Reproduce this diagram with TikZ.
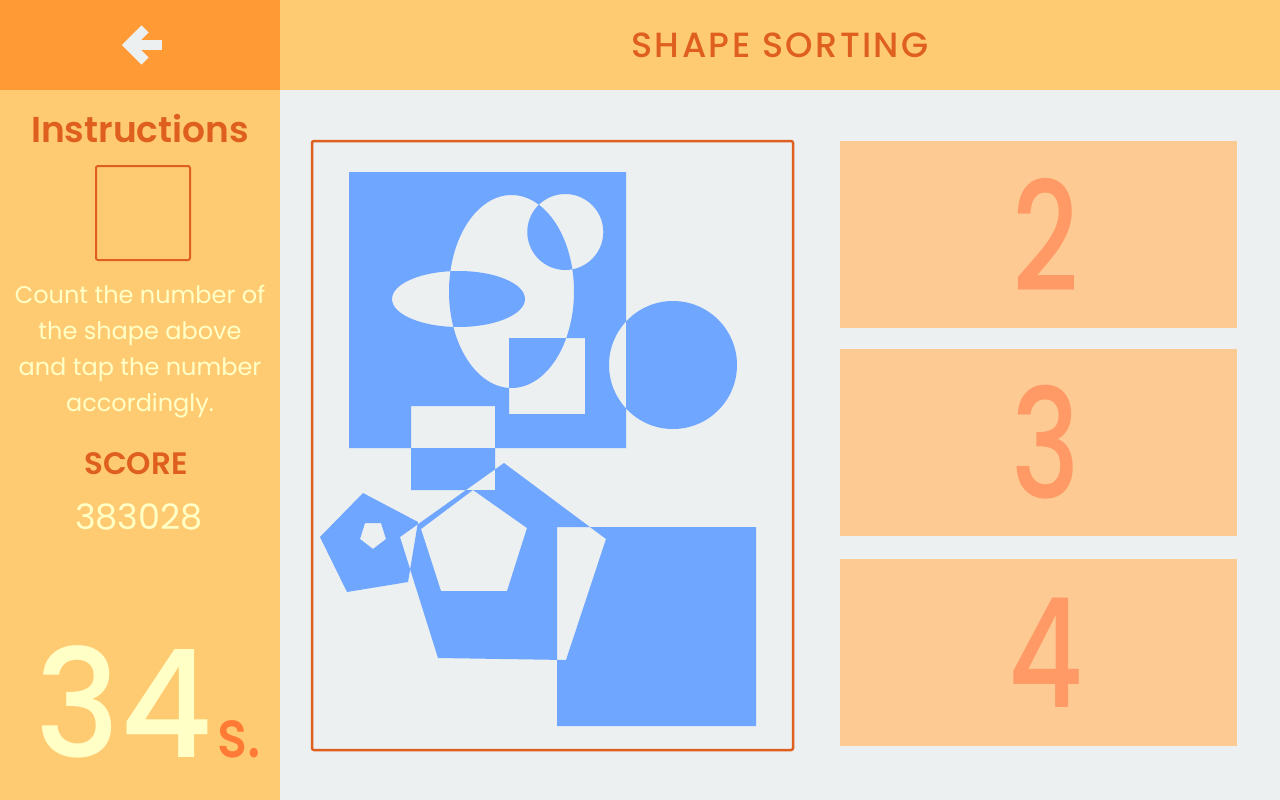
\documentclass[tikz,border=0pt]{standalone}
\usepackage{fontspec}
\setmainfont{Poppins}
\newfontfamily\medfont{Poppins Medium}
\newfontfamily\semifont{Poppins SemiBold}
\usetikzlibrary{positioning}

\definecolor{backorange}{HTML}{FF9A35}
\definecolor{barcol}{HTML}{FFCB72}
\definecolor{boardbg}{HTML}{ECF0F1}
\definecolor{shapeblue}{HTML}{6FA6FF}
\definecolor{darkorange}{HTML}{DF5F1F}
\definecolor{btncol}{HTML}{FDCA93}
\definecolor{btntext}{HTML}{FF9A66}
\definecolor{paletext}{HTML}{FFFFC6}
\definecolor{secorange}{HTML}{FF7A35}

\tikzset{
	answer/.style={fill=btncol, minimum width=397pt, minimum height=187pt, inner sep=0pt},
	answernum/.style={text=btntext, inner sep=0pt, font=\fontsize{152}{152}\selectfont\medfont},
	sidetext/.style={text=paletext, inner sep=0pt, align=center},
}

\begin{document}
\begin{tikzpicture}[x=1pt, y=-1pt]
			\useasboundingbox (0,0) rectangle (1280,800);
			
			\begin{scope}
			\fill[boardbg] (280,90) rectangle (1280,800); % area di gioco
			\fill[barcol] (280,0) rectangle (1280,90); % barra titolo
			\fill[barcol] (0,90) rectangle (280,800); % barra laterale
			\fill[backorange] (0,0) rectangle (280,90); % tasto indietro
			
			\draw[boardbg, line width=10pt, miter limit=10] (145,29) -- (129,45) -- (145,61);
			\draw[boardbg, line width=10pt] (128,45) -- (162,45);
			
			\node[text=darkorange, inner sep=0pt, font=\fontsize{35}{35}\selectfont\medfont\addfontfeatures{LetterSpace=7}] (title) at (780,45) {SHAPE SORTING};
			\end{scope}
			
			\begin{scope}
			\node[text=darkorange, inner sep=0pt, anchor=base, font=\fontsize{36}{36}\selectfont\semifont] (instr) at (140,142) {Instructions};
			\draw[darkorange, line width=2pt, rounded corners=2pt] (96,166) rectangle (190,260); % forma da contare
			
			\node[sidetext, anchor=base, font=\fontsize{24}{36}\selectfont] (line1) at (140,303) {Count the number of};
			\node[sidetext, anchor=base, font=\fontsize{24}{36}\selectfont] (line2) at (140,339) {the shape above};
			\node[sidetext, anchor=base, font=\fontsize{24}{36}\selectfont] (line3) at (140,375) {and tap the number};
			\node[sidetext, anchor=base, font=\fontsize{24}{36}\selectfont] (line4) at (140,411) {accordingly.};
			
			\node[text=darkorange, inner sep=0pt, anchor=base, font=\fontsize{31}{31}\selectfont\semifont] (score) at (136,474) {SCORE};
			\node[sidetext, anchor=base, font=\fontsize{35}{35}\selectfont] (points) at (139,529) {383028};
			
			\node[sidetext, anchor=base east, font=\fontsize{150}{150}\selectfont\medfont] (secs) at (213,757) {\scalebox{0.95}[1]{34}};
			\node[text=secorange, inner sep=0pt, anchor=base west, font=\fontsize{66}{66}\selectfont\medfont] (unit) at ([xshift=4pt]secs.base east) {\scalebox{0.85}[1]{s.}};
			\end{scope}
			
			\begin{scope}
			\draw[darkorange, line width=2.5pt, rounded corners=2pt] (312,141) rectangle (793,750); % cornice
			
			\fill[shapeblue, even odd rule]
				(349,172) rectangle (626,448)
				(511.5,291.5) ellipse [x radius=62.5pt, y radius=96.5pt]
				(565.3,232) circle [radius=38pt]
				(458.5,299) ellipse [x radius=66.5pt, y radius=28pt]
				(509,338) rectangle (585,414)
				(673,365) circle [radius=64pt]
				(411,406) rectangle (495,490)
				(504,463) -- (606,539) -- (566,660) -- (438,658) -- (400,537) -- cycle % pentagono grande
				(473,490) -- (527,528) -- (507,591) -- (441,591) -- (421,529) -- cycle % buco
				(363,493) -- (418,522) -- (408,582) -- (347,592) -- (320,537) -- cycle % pentagono piccolo
				(365,523) -- (381,523) -- (386,539) -- (373,549) -- (360,539) -- cycle
				(557,527) rectangle (756,726);
			\end{scope}
			
			\begin{scope}
			\node[answer] (b2) at (1038.5,234.5) {};
			\node[answer] (b3) at (1038.5,442.5) {};
			\node[answer] (b4) at (1038.5,652.5) {};
			\node[answernum] (n2) at ([xshift=7pt]b2.center) {\scalebox{0.76}[1]{2}};
			\node[answernum] (n3) at ([xshift=7pt]b3.center) {\scalebox{0.76}[1]{3}};
			\node[answernum] (n4) at ([xshift=7pt]b4.center) {\scalebox{0.76}[1]{4}};
			\end{scope}
\end{tikzpicture}
\end{document}
